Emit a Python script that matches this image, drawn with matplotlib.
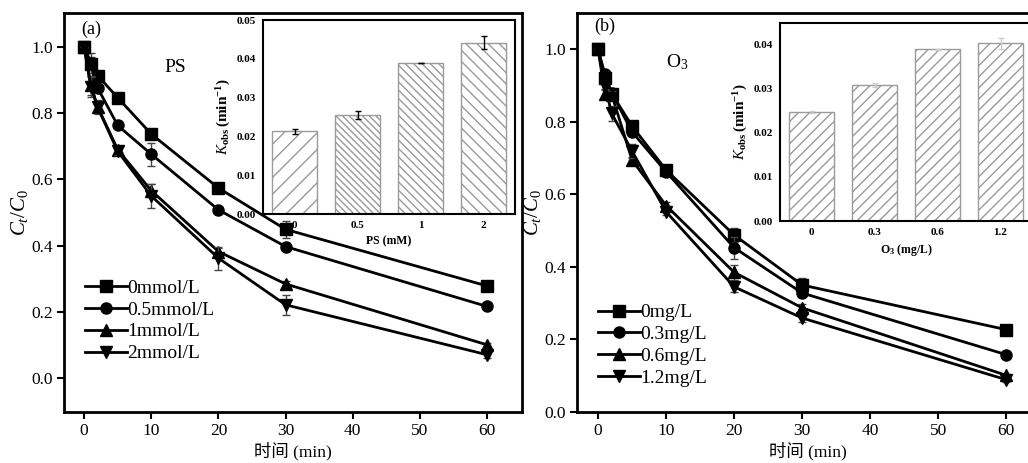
import numpy as np
import matplotlib
matplotlib.use("Agg")
import matplotlib.pyplot as plt
from matplotlib.lines import Line2D

plt.rcParams['font.family'] = ['Liberation Serif', 'Noto Sans CJK SC']
plt.rcParams['mathtext.fontset'] = 'custom'
plt.rcParams['mathtext.rm'] = 'Liberation Serif'
plt.rcParams['mathtext.it'] = 'Liberation Serif:italic'
plt.rcParams['mathtext.bf'] = 'Liberation Serif:bold'

# time points (min)
t = [0, 1, 2, 5, 10, 20, 30, 60]

# panel (a): PS dose
ps_labels = ['0mmol/L', '0.5mmol/L', '1mmol/L', '2mmol/L']
ps_0 = [1.0, 0.95, 0.914, 0.847, 0.737, 0.574, 0.449, 0.278]
ps_05 = [1.0, 0.952, 0.877, 0.763, 0.676, 0.508, 0.397, 0.216]
ps_1 = [1.0, 0.884, 0.82, 0.69, 0.566, 0.382, 0.284, 0.10]
ps_2 = [1.0, 0.88, 0.818, 0.685, 0.55, 0.362, 0.221, 0.07]
ps_err0 = [0.0, 0.02, 0.01, 0.01, 0.01, 0.015, 0.025, 0.005]
ps_err05 = [0.0, 0.03, 0.01, 0.01, 0.035, 0.01, 0.01, 0.005]
ps_err1 = [0.0, 0.03, 0.02, 0.01, 0.02, 0.01, 0.01, 0.005]
ps_err2 = [0.0, 0.03, 0.02, 0.01, 0.035, 0.035, 0.03, 0.01]

# panel (b): O3 dose
o3_labels = ['0mg/L', '0.3mg/L', '0.6mg/L', '1.2mg/L']
o3_0 = [1.0, 0.92, 0.878, 0.788, 0.667, 0.488, 0.35, 0.227]
o3_03 = [1.0, 0.931, 0.88, 0.772, 0.662, 0.453, 0.328, 0.158]
o3_06 = [1.0, 0.878, 0.875, 0.694, 0.569, 0.385, 0.287, 0.101]
o3_12 = [1.0, 0.90, 0.823, 0.719, 0.552, 0.345, 0.259, 0.089]
o3_err0 = [0.0, 0.01, 0.01, 0.01, 0.015, 0.02, 0.02, 0.005]
o3_err03 = [0.0, 0.01, 0.01, 0.01, 0.01, 0.03, 0.01, 0.005]
o3_err06 = [0.0, 0.01, 0.01, 0.01, 0.01, 0.02, 0.01, 0.005]
o3_err12 = [0.0, 0.01, 0.02, 0.02, 0.01, 0.015, 0.01, 0.005]

# insets: rate constants
ps_dose = ['0', '0.5', '1', '2']
ps_k = [0.0213, 0.0255, 0.039, 0.0441]
ps_k_err = [0.0007, 0.001, 0.0, 0.0017]
o3_dose = ['0', '0.3', '0.6', '1.2']
o3_k = [0.0248, 0.0309, 0.039, 0.0404]
o3_k_err = [0.0002, 0.0005, 0.0002, 0.0012]

markers = ['s', 'o', '^', 'v']

fig = plt.figure(figsize=(10.28, 4.63), dpi=100)
W, H = 1028, 463


def box(x0, y0, x1, y1):
    return [x0 / W, 1 - y1 / H, (x1 - x0) / W, (y1 - y0) / H]


def main_panel(ax, series, errs, labels, xlim, ylim, tag, tagpos, name, namepos, leg_anchor):
    handles = []
    for y, e, m, lab in zip(series, errs, markers, labels):
        ax.errorbar(t, y, yerr=e, fmt='none', ecolor='#444444', elinewidth=1, capsize=3)
        ax.plot(t, y, color='black', lw=2, marker=m, ms=8)
        handles.append(Line2D([], [], color='black', lw=2, marker=m, ms=8, label=lab))
    ax.set_xlim(*xlim)
    ax.set_ylim(*ylim)
    ax.set_xticks(range(0, 61, 10))
    ax.set_yticks(np.arange(0, 1.01, 0.2))
    ax.yaxis.set_major_formatter(matplotlib.ticker.FormatStrFormatter('%.1f'))
    ax.tick_params(direction='out', length=5, width=1.5, labelsize=12.5, pad=3, top=False, right=False)
    for s in ax.spines.values():
        s.set_linewidth(2)
    ax.set_xlabel('时间 (min)', fontsize=12.5, labelpad=2)
    ax.set_ylabel(r'$C_t/C_0$', fontsize=15, labelpad=1)
    ax.text(tagpos[0], tagpos[1], tag, fontsize=13)
    ax.text(namepos[0], namepos[1], name, fontsize=14)
    ax.legend(handles=handles, loc='lower left', bbox_to_anchor=leg_anchor, frameon=False, fontsize=14,
              handlelength=2.2, handletextpad=0.0, labelspacing=0.22, borderaxespad=0)


def inset_panel(ax, cats, vals, errs, hatches, ecol, ylim, yticks, xlabel):
    x = np.arange(len(cats))
    ax.bar(x, vals, width=0.7, color='white', edgecolor='#9a9a9a', linewidth=1, hatch=hatches)
    ax.errorbar(x, vals, yerr=errs, fmt='none', ecolor=ecol, elinewidth=1, capsize=2.5)
    ax.set_xlim(-0.5, 3.5)
    ax.set_ylim(*ylim)
    ax.set_yticks(yticks)
    ax.yaxis.set_major_formatter(matplotlib.ticker.FormatStrFormatter('%.2f'))
    ax.set_xticks(x)
    ax.set_xticklabels(cats)
    ax.tick_params(direction='in', length=0, labelsize=8, pad=5)
    for lab in ax.get_xticklabels() + ax.get_yticklabels():
        lab.set_fontweight('bold')
    for s in ax.spines.values():
        s.set_linewidth(1.5)
    ax.set_xlabel(xlabel, fontsize=8.5, fontweight='bold', labelpad=4)
    ax.set_ylabel(r'$\mathbf{\mathit{K}}_{\mathbf{obs}}\,\mathbf{(min^{-1})}$', fontsize=11, labelpad=3)


ax1 = fig.add_axes(box(64, 13, 522, 412))
main_panel(ax1, [ps_0, ps_05, ps_1, ps_2], [ps_err0, ps_err05, ps_err1, ps_err2], ps_labels,
           (-3, 65.2), (-0.103, 1.103), '(a)', (-0.5, 1.04), 'PS', (12, 0.925), (0.028, 0.105))

ax2 = fig.add_axes(box(577, 13, 1039, 412))
main_panel(ax2, [o3_0, o3_03, o3_06, o3_12], [o3_err0, o3_err03, o3_err06, o3_err12], o3_labels,
           (-3.1, 64.8), (0, 1.1), '(b)', (-0.6, 1.05), r'O$_3$', (10, 0.95), (0.028, 0.043))

in1 = fig.add_axes(box(263, 20, 515, 214))
inset_panel(in1, ps_dose, ps_k, ps_k_err, ['//', '\\' * 5, '\\' * 4, '\\' * 3], 'black',
            (0, 0.05), np.arange(0, 0.051, 0.01), 'PS (mM)')

in2 = fig.add_axes(box(780, 23, 1032, 221))
inset_panel(in2, o3_dose, o3_k, o3_k_err, ['///'] * 4, '#cccccc',
            (0, 0.045), np.arange(0, 0.041, 0.01), r'$\mathbf{O_3}$ (mg/L)')

fig.savefig('out.png', dpi=100)
